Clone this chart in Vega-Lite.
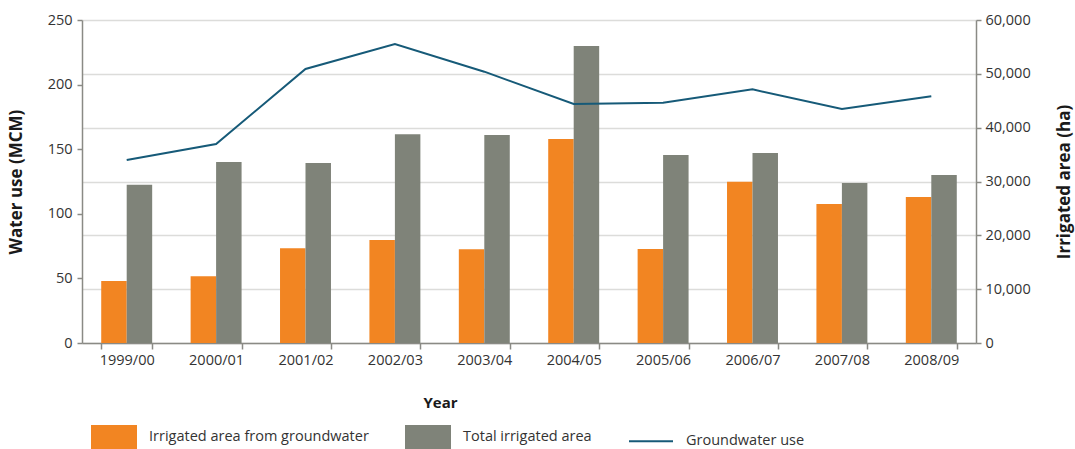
{
  "$schema": "https://vega.github.io/schema/vega-lite/v6.json",
  "width": 894,
  "height": 323,
  "autosize": {"type": "none"},
  "padding": {"left": 82, "top": 20, "right": 99, "bottom": 106},
  "background": "white",
  "config": {
    "font": "Open Sans",
    "view": {"stroke": null},
    "axis": {
      "labelColor": "#333333",
      "titleColor": "#1a1a1a",
      "labelFontSize": 14.5,
      "domainColor": "#8a8a85",
      "tickColor": "#8a8a85",
      "domainWidth": 1.5,
      "tickWidth": 1.5
    }
  },
  "datasets": {
    "area": [
      {"year": "1999/00", "series": "Irrigated area from groundwater", "ha": 11500},
      {"year": "1999/00", "series": "Total irrigated area", "ha": 29400},
      {"year": "2000/01", "series": "Irrigated area from groundwater", "ha": 12400},
      {"year": "2000/01", "series": "Total irrigated area", "ha": 33600},
      {"year": "2001/02", "series": "Irrigated area from groundwater", "ha": 17600},
      {"year": "2001/02", "series": "Total irrigated area", "ha": 33450},
      {"year": "2002/03", "series": "Irrigated area from groundwater", "ha": 19150},
      {"year": "2002/03", "series": "Total irrigated area", "ha": 38800},
      {"year": "2003/04", "series": "Irrigated area from groundwater", "ha": 17400},
      {"year": "2003/04", "series": "Total irrigated area", "ha": 38650},
      {"year": "2004/05", "series": "Irrigated area from groundwater", "ha": 37900},
      {"year": "2004/05", "series": "Total irrigated area", "ha": 55150},
      {"year": "2005/06", "series": "Irrigated area from groundwater", "ha": 17450},
      {"year": "2005/06", "series": "Total irrigated area", "ha": 34900},
      {"year": "2006/07", "series": "Irrigated area from groundwater", "ha": 29950},
      {"year": "2006/07", "series": "Total irrigated area", "ha": 35300},
      {"year": "2007/08", "series": "Irrigated area from groundwater", "ha": 25800},
      {"year": "2007/08", "series": "Total irrigated area", "ha": 29700},
      {"year": "2008/09", "series": "Irrigated area from groundwater", "ha": 27100},
      {"year": "2008/09", "series": "Total irrigated area", "ha": 31200}
    ],
    "gw": [
      {"year": "1999/00", "mcm": 141.6},
      {"year": "2000/01", "mcm": 154.0},
      {"year": "2001/02", "mcm": 212.1},
      {"year": "2002/03", "mcm": 231.4},
      {"year": "2003/04", "mcm": 210.0},
      {"year": "2004/05", "mcm": 185.0},
      {"year": "2005/06", "mcm": 186.0},
      {"year": "2006/07", "mcm": 196.3},
      {"year": "2007/08", "mcm": 181.1},
      {"year": "2008/09", "mcm": 190.9}
    ]
  },
  "layer": [
    {
      "data": {"name": "area"},
      "mark": {"type": "bar"},
      "encoding": {
        "x": {
          "field": "year",
          "type": "nominal",
          "sort": null,
          "scale": {"paddingInner": 0.43, "paddingOuter": 0.215},
          "axis": {
            "title": "Year",
            "titleFontWeight": "bold",
            "titleFontSize": 15,
            "titleX": 358,
            "titleY": 52,
            "titleBaseline": "top",
            "labelAngle": 0,
            "labelPadding": 4,
            "tickBand": "extent",
            "tickSize": 6
          }
        },
        "xOffset": {
          "field": "series",
          "type": "nominal",
          "sort": ["Irrigated area from groundwater", "Total irrigated area"],
          "scale": {"paddingInner": 0, "paddingOuter": 0}
        },
        "y": {
          "field": "ha",
          "type": "quantitative",
          "scale": {"domain": [0, 60000], "nice": false},
          "axis": {
            "orient": "right",
            "title": "Irrigated area (ha)",
            "titleFontWeight": "bold",
            "titleFontSize": 17,
            "titleAngle": -90,
            "titleAlign": "center",
            "titleBaseline": "middle",
            "titleX": 88,
            "titleY": 161.5,
            "values": [0, 10000, 20000, 30000, 40000, 50000, 60000],
            "format": ",.0f",
            "grid": true,
            "gridColor": "#dcdcda",
            "gridWidth": 1.5,
            "tickSize": 5,
            "labelPadding": 4
          }
        },
        "color": {
          "field": "series",
          "type": "nominal",
          "scale": {
            "domain": ["Irrigated area from groundwater", "Total irrigated area", "Groundwater use"],
            "range": ["#f28522", "#7f8379", "#165a78"]
          },
          "legend": {
            "title": null,
            "orient": "none",
            "legendX": 9,
            "legendY": 394,
            "direction": "horizontal",
            "columns": 3,
            "columnPadding": 33,
            "labelFontSize": 14.5,
            "labelColor": "#333333",
            "labelLimit": 400,
            "labelOffset": 12,
            "symbolType": "M-1,-0.5H1V0.5H-1Z",
            "symbolSize": 1936,
            "encode": {
              "symbols": {
                "update": {
                  "shape": {"signal": "datum.value === 'Groundwater use' ? 'M-1,0H1' : 'M-1,-0.5H1V0.5H-1Z'"},
                  "fill": {"signal": "datum.value === 'Groundwater use' ? 'transparent' : (datum.value === 'Total irrigated area' ? '#7f8379' : '#f28522')"},
                  "stroke": {"signal": "datum.value === 'Groundwater use' ? '#165a78' : 'transparent'"},
                  "strokeWidth": {"value": 2},
                  "opacity": {"value": 1}
                }
              }
            }
          }
        }
      }
    },
    {
      "data": {"name": "gw"},
      "mark": {"type": "line", "strokeWidth": 2},
      "encoding": {
        "x": {"field": "year", "type": "nominal", "sort": null},
        "y": {
          "field": "mcm",
          "type": "quantitative",
          "scale": {"domain": [0, 250], "nice": false},
          "axis": {
            "orient": "left",
            "title": "Water use (MCM)",
            "titleFontWeight": "bold",
            "titleFontSize": 17,
            "titleAngle": -90,
            "titleAlign": "center",
            "titleBaseline": "middle",
            "titleX": -66,
            "titleY": 161.5,
            "values": [0, 50, 100, 150, 200, 250],
            "grid": false,
            "tickSize": 5,
            "labelPadding": 5
          }
        },
        "color": {"datum": "Groundwater use", "type": "nominal"}
      }
    }
  ],
  "resolve": {"scale": {"y": "independent"}}
}
